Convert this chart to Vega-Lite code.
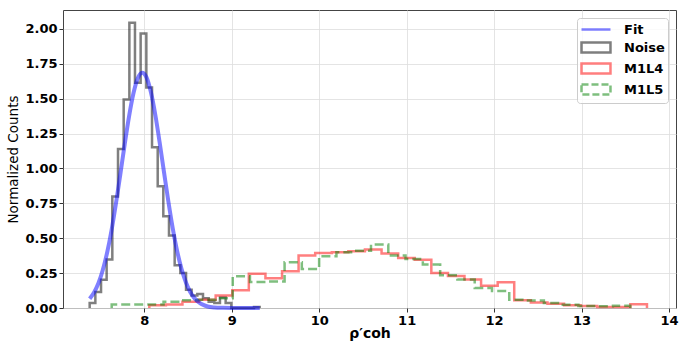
{
  "$schema": "https://vega.github.io/schema/vega-lite/v6.json",
  "width": 613,
  "height": 298,
  "autosize": {"type": "none"},
  "padding": {"left": 63, "top": 10, "right": 3, "bottom": 35},
  "background": "white",
  "config": {
    "view": {"stroke": "#444444", "strokeWidth": 1},
    "font": "DejaVu Sans",
    "axis": {
      "labelFont": "DejaVu Sans",
      "labelFontWeight": "bold",
      "labelFontSize": 13,
      "labelColor": "black",
      "labelOverlap": false,
      "labelSeparation": 0,
      "labelFlush": false,
      "tickColor": "#333333",
      "tickSize": 4,
      "domain": false,
      "gridColor": "#dddddd",
      "gridWidth": 0.8,
      "titleFont": "DejaVu Sans",
      "titleColor": "black",
      "labelPadding": 2
    }
  },
  "datasets": {
    "hist": [
      {"s": "Noise", "i": 0, "x": 7.375, "y": 0},
      {"s": "Noise", "i": 1, "x": 7.375, "y": 0.036},
      {"s": "Noise", "i": 2, "x": 7.440, "y": 0.115},
      {"s": "Noise", "i": 3, "x": 7.505, "y": 0.203},
      {"s": "Noise", "i": 4, "x": 7.569, "y": 0.347},
      {"s": "Noise", "i": 5, "x": 7.634, "y": 0.80},
      {"s": "Noise", "i": 6, "x": 7.699, "y": 1.14},
      {"s": "Noise", "i": 7, "x": 7.764, "y": 1.495},
      {"s": "Noise", "i": 8, "x": 7.829, "y": 2.045},
      {"s": "Noise", "i": 9, "x": 7.893, "y": 1.615},
      {"s": "Noise", "i": 10, "x": 7.958, "y": 1.967},
      {"s": "Noise", "i": 11, "x": 8.023, "y": 1.58},
      {"s": "Noise", "i": 12, "x": 8.088, "y": 1.153},
      {"s": "Noise", "i": 13, "x": 8.153, "y": 0.873},
      {"s": "Noise", "i": 14, "x": 8.217, "y": 0.658},
      {"s": "Noise", "i": 15, "x": 8.282, "y": 0.519},
      {"s": "Noise", "i": 16, "x": 8.347, "y": 0.306},
      {"s": "Noise", "i": 17, "x": 8.412, "y": 0.25},
      {"s": "Noise", "i": 18, "x": 8.477, "y": 0.13},
      {"s": "Noise", "i": 19, "x": 8.541, "y": 0.09},
      {"s": "Noise", "i": 20, "x": 8.606, "y": 0.10},
      {"s": "Noise", "i": 21, "x": 8.671, "y": 0.07},
      {"s": "Noise", "i": 22, "x": 8.736, "y": 0.045},
      {"s": "Noise", "i": 23, "x": 8.801, "y": 0.035},
      {"s": "Noise", "i": 24, "x": 8.865, "y": 0.075},
      {"s": "Noise", "i": 25, "x": 8.930, "y": 0.035},
      {"s": "Noise", "i": 26, "x": 8.995, "y": 0},
      {"s": "Noise", "i": 27, "x": 9.060, "y": 0},
      {"s": "Noise", "i": 28, "x": 9.125, "y": 0},
      {"s": "Noise", "i": 29, "x": 9.189, "y": 0},
      {"s": "Noise", "i": 30, "x": 9.254, "y": 0.008},
      {"s": "Noise", "i": 31, "x": 9.319, "y": 0},
      {"s": "M1L4", "i": 0, "x": 8.057, "y": 0},
      {"s": "M1L4", "i": 1, "x": 8.057, "y": 0.02},
      {"s": "M1L4", "i": 2, "x": 8.247, "y": 0.025},
      {"s": "M1L4", "i": 3, "x": 8.436, "y": 0.045},
      {"s": "M1L4", "i": 4, "x": 8.626, "y": 0.06},
      {"s": "M1L4", "i": 5, "x": 8.816, "y": 0.09},
      {"s": "M1L4", "i": 6, "x": 9.006, "y": 0.127},
      {"s": "M1L4", "i": 7, "x": 9.195, "y": 0.246},
      {"s": "M1L4", "i": 8, "x": 9.385, "y": 0.214},
      {"s": "M1L4", "i": 9, "x": 9.575, "y": 0.263},
      {"s": "M1L4", "i": 10, "x": 9.764, "y": 0.376},
      {"s": "M1L4", "i": 11, "x": 9.954, "y": 0.395},
      {"s": "M1L4", "i": 12, "x": 10.144, "y": 0.40},
      {"s": "M1L4", "i": 13, "x": 10.333, "y": 0.407},
      {"s": "M1L4", "i": 14, "x": 10.523, "y": 0.419},
      {"s": "M1L4", "i": 15, "x": 10.713, "y": 0.39},
      {"s": "M1L4", "i": 16, "x": 10.903, "y": 0.359},
      {"s": "M1L4", "i": 17, "x": 11.092, "y": 0.345},
      {"s": "M1L4", "i": 18, "x": 11.282, "y": 0.251},
      {"s": "M1L4", "i": 19, "x": 11.472, "y": 0.23},
      {"s": "M1L4", "i": 20, "x": 11.661, "y": 0.205},
      {"s": "M1L4", "i": 21, "x": 11.851, "y": 0.16},
      {"s": "M1L4", "i": 22, "x": 12.041, "y": 0.185},
      {"s": "M1L4", "i": 23, "x": 12.230, "y": 0.055},
      {"s": "M1L4", "i": 24, "x": 12.420, "y": 0.04},
      {"s": "M1L4", "i": 25, "x": 12.610, "y": 0.03},
      {"s": "M1L4", "i": 26, "x": 12.800, "y": 0.02},
      {"s": "M1L4", "i": 27, "x": 12.989, "y": 0.014},
      {"s": "M1L4", "i": 28, "x": 13.179, "y": 0.008},
      {"s": "M1L4", "i": 29, "x": 13.369, "y": 0.008},
      {"s": "M1L4", "i": 30, "x": 13.558, "y": 0.027},
      {"s": "M1L4", "i": 31, "x": 13.748, "y": 0},
      {"s": "M1L5", "i": 0, "x": 7.627, "y": 0},
      {"s": "M1L5", "i": 1, "x": 7.627, "y": 0.025},
      {"s": "M1L5", "i": 2, "x": 7.825, "y": 0.025},
      {"s": "M1L5", "i": 3, "x": 8.022, "y": 0.025},
      {"s": "M1L5", "i": 4, "x": 8.220, "y": 0.045},
      {"s": "M1L5", "i": 5, "x": 8.418, "y": 0.055},
      {"s": "M1L5", "i": 6, "x": 8.615, "y": 0.06},
      {"s": "M1L5", "i": 7, "x": 8.813, "y": 0.07},
      {"s": "M1L5", "i": 8, "x": 9.011, "y": 0.227},
      {"s": "M1L5", "i": 9, "x": 9.208, "y": 0.187},
      {"s": "M1L5", "i": 10, "x": 9.406, "y": 0.19},
      {"s": "M1L5", "i": 11, "x": 9.604, "y": 0.328},
      {"s": "M1L5", "i": 12, "x": 9.801, "y": 0.28},
      {"s": "M1L5", "i": 13, "x": 9.999, "y": 0.371},
      {"s": "M1L5", "i": 14, "x": 10.197, "y": 0.40},
      {"s": "M1L5", "i": 15, "x": 10.394, "y": 0.41},
      {"s": "M1L5", "i": 16, "x": 10.592, "y": 0.455},
      {"s": "M1L5", "i": 17, "x": 10.790, "y": 0.376},
      {"s": "M1L5", "i": 18, "x": 10.987, "y": 0.352},
      {"s": "M1L5", "i": 19, "x": 11.185, "y": 0.311},
      {"s": "M1L5", "i": 20, "x": 11.383, "y": 0.235},
      {"s": "M1L5", "i": 21, "x": 11.580, "y": 0.205},
      {"s": "M1L5", "i": 22, "x": 11.778, "y": 0.144},
      {"s": "M1L5", "i": 23, "x": 11.976, "y": 0.122},
      {"s": "M1L5", "i": 24, "x": 12.173, "y": 0.06},
      {"s": "M1L5", "i": 25, "x": 12.371, "y": 0.054},
      {"s": "M1L5", "i": 26, "x": 12.569, "y": 0.036},
      {"s": "M1L5", "i": 27, "x": 12.766, "y": 0.024},
      {"s": "M1L5", "i": 28, "x": 12.964, "y": 0.015},
      {"s": "M1L5", "i": 29, "x": 13.162, "y": 0.012},
      {"s": "M1L5", "i": 30, "x": 13.359, "y": 0.017},
      {"s": "M1L5", "i": 31, "x": 13.557, "y": 0}
    ],
    "fit": [
      {"x": 7.375, "y": 0.066}, {"x": 7.425, "y": 0.111}, {"x": 7.475, "y": 0.177},
      {"x": 7.525, "y": 0.272}, {"x": 7.575, "y": 0.398}, {"x": 7.625, "y": 0.557},
      {"x": 7.675, "y": 0.747}, {"x": 7.725, "y": 0.956}, {"x": 7.775, "y": 1.171},
      {"x": 7.825, "y": 1.372}, {"x": 7.875, "y": 1.537}, {"x": 7.925, "y": 1.647},
      {"x": 7.975, "y": 1.687}, {"x": 8.025, "y": 1.653}, {"x": 8.075, "y": 1.548},
      {"x": 8.125, "y": 1.387}, {"x": 8.175, "y": 1.188}, {"x": 8.225, "y": 0.974},
      {"x": 8.275, "y": 0.763}, {"x": 8.325, "y": 0.571}, {"x": 8.375, "y": 0.409},
      {"x": 8.425, "y": 0.281}, {"x": 8.475, "y": 0.184}, {"x": 8.525, "y": 0.115},
      {"x": 8.575, "y": 0.069}, {"x": 8.625, "y": 0.040}, {"x": 8.675, "y": 0.022},
      {"x": 8.725, "y": 0.011}, {"x": 8.8, "y": 0.004}, {"x": 8.9, "y": 0.001},
      {"x": 9.0, "y": 0.0}, {"x": 9.1, "y": 0.0}, {"x": 9.2, "y": 0.0}, {"x": 9.32, "y": 0.0}
    ]
  },
  "layer": [
    {
      "data": {"name": "hist"},
      "transform": [{"filter": "datum.s === 'Noise'"}],
      "mark": {"type": "line", "interpolate": "step-after", "color": "black", "opacity": 0.5, "strokeWidth": 2.5},
      "encoding": {
        "x": {
          "field": "x", "type": "quantitative",
          "scale": {"domain": [7.07, 14.08], "nice": false, "zero": false},
          "axis": {
            "values": [8, 9, 10, 11, 12, 13, 14],
            "tickCount": 20,
            "format": "d",
            "grid": true,
            "labelOverlap": false,
            "title": "ρ′coh",
            "titleFontSize": 14,
            "titleFontWeight": "bold",
            "titlePadding": -1
          }
        },
        "y": {
          "field": "y", "type": "quantitative",
          "scale": {"domain": [0, 2.136], "nice": false},
          "axis": {
            "values": [0, 0.25, 0.5, 0.75, 1, 1.25, 1.5, 1.75, 2],
            "tickCount": 20,
            "format": ".2f",
            "grid": true,
            "labelOverlap": false,
            "labelSeparation": 0,
            "title": "Normalized Counts",
            "titleFontSize": 13.5,
            "titleFontWeight": "normal",
            "titlePadding": 4
          }
        },
        "order": {"field": "i", "type": "quantitative"}
      }
    },
    {
      "data": {"name": "hist"},
      "transform": [{"filter": "datum.s === 'M1L4'"}],
      "mark": {"type": "line", "interpolate": "step-after", "color": "red", "opacity": 0.5, "strokeWidth": 2.5},
      "encoding": {
        "x": {"field": "x", "type": "quantitative"},
        "y": {"field": "y", "type": "quantitative"},
        "order": {"field": "i", "type": "quantitative"}
      }
    },
    {
      "data": {"name": "hist"},
      "transform": [{"filter": "datum.s === 'M1L5'"}],
      "mark": {"type": "line", "interpolate": "step-after", "color": "green", "opacity": 0.5, "strokeWidth": 2.5, "strokeDash": [9, 4]},
      "encoding": {
        "x": {"field": "x", "type": "quantitative"},
        "y": {"field": "y", "type": "quantitative"},
        "order": {"field": "i", "type": "quantitative"}
      }
    },
    {
      "data": {"name": "fit"},
      "mark": {"type": "line", "interpolate": "monotone", "color": "blue", "opacity": 0.5, "strokeWidth": 4},
      "encoding": {
        "x": {"field": "x", "type": "quantitative"},
        "y": {"field": "y", "type": "quantitative"}
      }
    },
    {
      "data": {"values": [{"series": "Fit"}, {"series": "Noise"}, {"series": "M1L4"}, {"series": "M1L5"}]},
      "mark": {"type": "point", "filled": false, "opacity": 0},
      "encoding": {
        "color": {
          "field": "series", "type": "nominal",
          "scale": {"domain": ["Fit", "Noise", "M1L4", "M1L5"], "range": ["blue", "black", "red", "green"]},
          "legend": {
            "title": null,
            "orient": "top-right",
            "offset": 8,
            "symbolSize": 196,
            "symbolStrokeWidth": 2.5,
            "symbolOpacity": 0.5,
            "labelFont": "DejaVu Sans",
            "labelFontSize": 13,
            "labelFontWeight": "bold",
            "labelColor": "black",
            "labelOffset": 27,
            "rowPadding": 0,
            "padding": 3,
            "fillColor": "rgba(255,255,255,0.8)",
            "strokeColor": "#cccccc",
            "cornerRadius": 3
          }
        },
        "shape": {
          "field": "series", "type": "nominal",
          "scale": {"domain": ["Fit", "Noise", "M1L4", "M1L5"], "range": ["M-1,0H3.14", "M-1,-0.71H3.14V0.71H-1Z", "M-1,-0.71H3.14V0.71H-1Z", "M-1,-0.71H3.14V0.71H-1Z"]}
        },
        "strokeDash": {
          "field": "series", "type": "nominal",
          "scale": {"domain": ["Fit", "Noise", "M1L4", "M1L5"], "range": [[1, 0], [1, 0], [1, 0], [7, 3]]}
        }
      }
    }
  ]
}
